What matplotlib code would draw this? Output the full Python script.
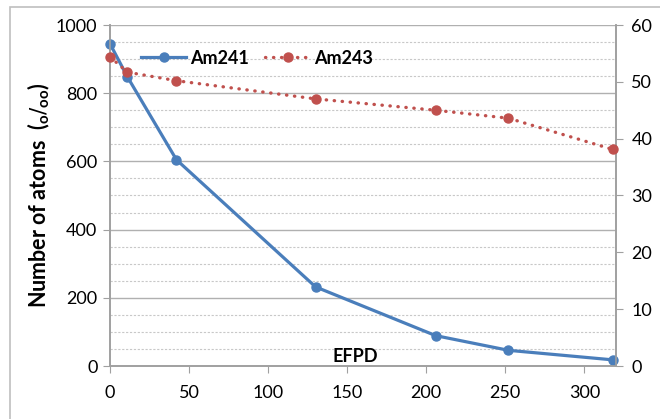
import matplotlib
matplotlib.use("Agg")
import matplotlib.pyplot as plt
from matplotlib.patches import Rectangle
from matplotlib.ticker import MultipleLocator

plt.rcParams['font.family'] = ['Lato', 'DejaVu Sans']

efpd = [0, 11, 42, 130, 206, 252, 318]
am241 = [945, 848, 605, 232, 89, 46, 18]
am243 = [54.4, 51.7, 50.2, 47.0, 45.0, 43.6, 38.1]

blue = '#4A7EBB'
red = '#C0504D'
axis_gray = '#A0A0A0'

fig = plt.figure(figsize=(6.6, 4.19), dpi=100)
fig.patches.append(Rectangle((10/660, -0.1), 1.1, (419-7)/419 + 0.1, transform=fig.transFigure,
                             fill=False, edgecolor='#BFBFBF', linewidth=1.2))

ax = fig.add_axes([110/660, 53/419, 506/660, 341/419])
ax2 = ax.twinx()

ax.set_xlim(0, 320)
ax.set_ylim(0, 1000)
ax2.set_ylim(0, 60)

ax.yaxis.set_major_locator(MultipleLocator(200))
ax.yaxis.set_minor_locator(MultipleLocator(50))
ax.xaxis.set_major_locator(MultipleLocator(50))
ax2.yaxis.set_major_locator(MultipleLocator(10))

ax.grid(which='major', axis='y', color='#B0B0B0', linewidth=1.0, linestyle='-')
ax.grid(which='minor', axis='y', color='#C8C8C8', linewidth=0.8, linestyle=(0, (2, 1.5)))
ax.set_axisbelow(True)

l1, = ax.plot(efpd, am241, color=blue, linewidth=2.3, marker='o', markersize=6.5,
              label='Am241', zorder=4, clip_on=False)
l2, = ax2.plot(efpd, am243, color=red, linewidth=2.4, linestyle=(0, (0.1, 2.3)),
               dash_capstyle='round', marker='o', markersize=6.5, label='Am243', zorder=4, clip_on=False)

for a in (ax, ax2):
    for s in a.spines.values():
        s.set_color(axis_gray)
        s.set_linewidth(1.2)
    a.spines['top'].set_visible(False)

ax.tick_params(axis='both', which='major', direction='out', length=5, color=axis_gray,
               labelsize=13, pad=4)
ax.tick_params(axis='y', which='minor', length=0)
ax.tick_params(axis='x', pad=9)
ax2.tick_params(axis='y', which='major', direction='out', length=5, color=axis_gray,
                labelsize=13, pad=6)

ax.set_ylabel(r'Number of atoms  (${}_{\mathregular{o}}/{}_{\mathregular{oo}}$)',
              fontsize=15.5, fontweight='bold', labelpad=3)

fig.text(355/660, (419-356)/419, 'EFPD', fontsize=13, fontweight='bold',
         ha='center', va='center')

leg = fig.legend(handles=[l1, l2], loc='center left', bbox_to_anchor=(134/660, (419-58)/419),
                 ncol=2, frameon=False, fontsize=13, handlelength=2.5, columnspacing=0.9,
                 handletextpad=0.2, borderaxespad=0)
for t in leg.get_texts():
    t.set_fontweight('bold')

fig.savefig('out.png', dpi=100)
